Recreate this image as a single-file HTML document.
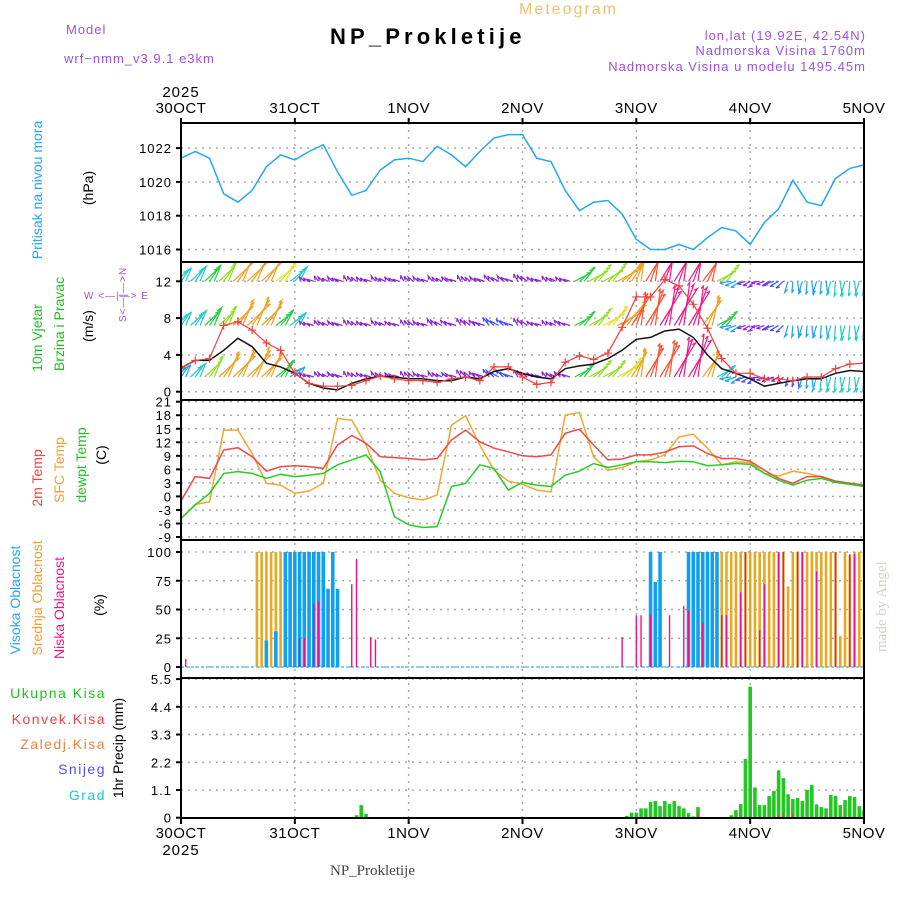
<!DOCTYPE html>
<html><head><meta charset="utf-8"><style>
body{margin:0;background:#fff}
svg{display:block;font-family:"Liberation Sans",sans-serif}
.t{font-size:13px;letter-spacing:1px}
</style></head><body>
<svg id="c" width="900" height="900" viewBox="0 0 900 900" xmlns="http://www.w3.org/2000/svg">
<rect width="900" height="900" fill="#fff"/>
<text x="66" y="34" fill="#a050e0" class="t" font-size="14" letter-spacing="2">Model</text>
<text x="64" y="63" fill="#a050e0" class="t" font-size="15" letter-spacing="2">wrf−nmm_v3.9.1 e3km</text>
<text x="330" y="44" font-family="Liberation Sans,sans-serif" font-weight="bold" font-size="22" letter-spacing="1.5" textLength="193">NP_Prokletije</text>
<text x="519" y="14" fill="#f0c070" font-size="16" letter-spacing="2">Meteogram</text>
<text x="866" y="40" fill="#a050e0" class="t" text-anchor="end">lon,lat (19.92E, 42.54N)</text>
<text x="866" y="55" fill="#a050e0" class="t" text-anchor="end">Nadmorska Visina 1760m</text>
<text x="866" y="71" fill="#a050e0" class="t" text-anchor="end">Nadmorska Visina u modelu 1495.45m</text>
<text x="330" y="875" fill="#444" font-family="Liberation Serif,serif" font-size="15">NP_Prokletije</text>
<text transform="translate(886,652) rotate(-90)" fill="#c8d8c8" font-family="Liberation Serif,serif" font-size="15">made by Angel</text>
<g id="labels" font-size="14">
<text transform="translate(42,190) rotate(-90)" text-anchor="middle" fill="#20a8f0">Pritisak na nivou mora</text>
<text transform="translate(93,188) rotate(-90)" text-anchor="middle">(hPa)</text>
<text transform="translate(42,338) rotate(-90)" text-anchor="middle" fill="#20c020">10m Vjetar</text>
<text transform="translate(64,324) rotate(-90)" text-anchor="middle" fill="#20c020">Brzina i Pravac</text>
<text transform="translate(93,326) rotate(-90)" text-anchor="middle">(m/s)</text>
<text x="84" y="299" fill="#a050e0" font-size="10" letter-spacing="1">W &lt;—|—&gt; E</text>
<text transform="translate(126,322) rotate(-90)" fill="#a050e0" font-size="10" letter-spacing="1">S&lt;—|—&gt;N</text>
<text transform="translate(42,478) rotate(-90)" text-anchor="middle" fill="#f04040">2m Temp</text>
<text transform="translate(64,470) rotate(-90)" text-anchor="middle" fill="#f0a030">SFC Temp</text>
<text transform="translate(86,465) rotate(-90)" text-anchor="middle" fill="#20c020">dewpt Temp</text>
<text transform="translate(106,455) rotate(-90)" text-anchor="middle">(C)</text>
<text transform="translate(20,600) rotate(-90)" text-anchor="middle" fill="#20a8f0">Visoka Oblacnost</text>
<text transform="translate(42,598) rotate(-90)" text-anchor="middle" fill="#f0a030">Srednja Oblacnost</text>
<text transform="translate(64,608) rotate(-90)" text-anchor="middle" fill="#f0108a">Niska Oblacnost</text>
<text transform="translate(104,605) rotate(-90)" text-anchor="middle">(%)</text>
<text x="106" y="698" text-anchor="end" fill="#20c020" letter-spacing="1.5">Ukupna Kisa</text>
<text x="106" y="724" text-anchor="end" fill="#f04040" letter-spacing="1.5">Konvek.Kisa</text>
<text x="106" y="749" text-anchor="end" fill="#f08040" letter-spacing="1.5">Zaledj.Kisa</text>
<text x="106" y="774" text-anchor="end" fill="#5050f0" letter-spacing="1.5">Snijeg</text>
<text x="106" y="800" text-anchor="end" fill="#20c8c8" letter-spacing="1.5">Grad</text>
<text transform="translate(123,748) rotate(-90)" text-anchor="middle">1hr Precip (mm)</text>
</g>
</svg>
<script>
const NS='http://www.w3.org/2000/svg';
const svg=document.getElementById('c');
// ---- data (3-hourly, hour 0..144) ----
const dayLabels=['30OCT','31OCT','1NOV','2NOV','3NOV','4NOV','5NOV'];
const pressure=[1021.4,1021.8,1021.4,1019.3,1018.8,1019.5,1020.9,1021.6,1021.3,1021.8,1022.2,1020.6,1019.2,1019.5,1020.7,1021.3,1021.4,1021.2,1022.1,1021.6,1020.9,1021.8,1022.6,1022.8,1022.8,1021.4,1021.2,1019.5,1018.3,1018.8,1018.9,1018.1,1016.6,1016.0,1016.0,1016.3,1016.0,1016.7,1017.3,1017.1,1016.3,1017.6,1018.4,1020.1,1018.8,1018.6,1020.2,1020.8,1021.0];
const windSpeed=[2.6,3.4,3.4,4.5,5.8,4.9,3.1,2.7,2.0,0.9,0.4,0.2,0.9,1.4,1.7,1.6,1.4,1.4,1.2,1.2,1.6,1.4,2.2,2.5,2.0,1.6,1.4,2.5,2.8,3.0,3.6,4.5,5.7,5.9,6.6,6.8,5.9,4.0,2.5,2.0,1.4,0.6,0.9,1.2,1.4,1.4,2.0,2.3,2.2];
const windGust=[2.6,3.4,3.6,7.2,7.6,6.7,5.3,4.5,2.0,0.9,0.6,0.6,0.7,1.2,1.7,1.4,1.2,1.2,1.0,1.4,1.6,1.2,2.7,2.7,1.6,0.8,1.0,3.2,3.9,3.5,4.2,7.0,10.3,10.3,12.2,11.5,9.5,6.9,3.6,2.0,2.0,1.4,1.4,1.2,1.6,1.6,2.5,3.0,3.1];
const barbTop=[4,4.5,5,6,8,9,9,7,4.5,1.5,1.5,1.5,1.5,1.5,1.5,1.5,1.5,1.5,1.5,1.5,1.5,1.5,2,2,2,1.5,1.5,1.5,5,6,6.5,8,9,11,13,13,12,10,6,3,2,2,2.5,3,3.5,3.5,4,4,4];
const barbMid=[4,4.5,5.5,6,8,9,8,5,4,1.5,1.5,1.5,1.5,1.5,1.5,1.5,1.5,1.5,2,2,2,2,2.5,2.5,2,1.5,1.5,2,5,6,7,9,10,11,12,13,12,9,5,3,2,2,2.5,3,3,3.5,4,4,4];
const barbLow=[3.5,4,6.5,8,9,9.5,8,5.5,3,1.5,1.5,1.5,1.5,1.5,1.5,1.5,1.5,1.5,1.5,1.5,2,2,2.5,2.5,2,1.5,1.5,2,5,6,6,7,8.5,10,11,12,13,8,4,3,2.5,2,2,2.5,3,4,4,4,4];
const barbDir=[55,55,55,55,55,55,55,50,50,150,140,150,130,150,140,150,130,150,140,150,130,150,140,150,130,150,140,150,40,40,40,40,70,70,70,70,70,65,40,200,210,200,210,265,265,265,265,265,265];
const temp2m=[-1,4.4,4.0,10.3,10.8,8.8,5.6,6.6,6.8,6.6,6.2,11.4,13.5,11.8,8.8,8.6,8.4,8.1,8.4,12.5,14.7,12.1,10.7,9.9,9.0,8.8,9.2,14.0,14.9,11.4,8.1,8.3,9.2,9.2,9.8,11.0,11.2,9.5,8.4,8.4,7.8,5.8,4.0,2.9,4.4,4.4,3.4,2.9,2.5];
const tempSfc=[-4.9,-1.8,-1.2,14.7,14.7,9.5,2.9,2.5,0.7,1.2,2.9,17.3,16.9,11.4,3.6,0.7,-0.3,-0.8,0.3,15.8,17.9,11.4,5.8,3.4,2.7,1.4,1.0,18.0,18.6,8.8,5.8,6.4,7.7,8.1,9.2,13.2,13.8,10.7,7.0,7.7,7.5,5.1,4.5,5.6,5.1,4.4,3.4,2.9,2.4];
const dewpt=[-4.9,-1.9,0.7,5.1,5.5,5.1,4.0,4.9,4.4,4.7,5.1,7.0,8.1,9.2,5.5,-4.5,-6.3,-6.9,-6.7,2.2,2.9,7.0,6.2,1.4,3.1,2.5,2.2,4.7,5.6,7.3,6.4,7.0,7.7,7.7,7.5,7.8,7.7,6.8,7.0,7.3,7.1,5.1,3.6,2.5,3.6,4.0,3.1,2.7,2.2];
// clouds (hourly): hours + values
const highHours=[18,20,22,23,24,25,26,27,28,29,30,31,32,33,99,100,101,107,108,109,110,111,112,113];
const highVals=[23,31,100,100,100,100,100,100,100,100,100,68,100,68,100,74,100,100,100,100,100,100,100,100];
const midHours=[16,17,18,19,20,21,22,23,24,25,26,27,28,29,30,31,108,110,111,112,113,114,115,116,117,118,119,120,121,122,123,124,125,126,127,128,129,130,131,132,133,134,135,136,137,138,139,140,141,142,143,144];
const midVals=[100,100,100,100,100,100,100,100,100,38,100,78,100,100,78,20,44,100,100,100,100,100,100,100,100,100,100,100,100,100,100,100,100,100,100,70,100,100,100,100,100,100,100,100,100,100,27,100,97,100,100,100];
const lowHours=[1,25,26,28,29,36,37,40,41,93,96,97,99,103,106,107,110,114,115,118,119,122,123,126,127,130,131,134,138,141,142];
const lowVals=[7,25,25,55,57,72,94,26,24,26,45,45,45,45,53,49,38,45,45,65,100,32,72,100,100,100,100,83,100,98,98];
// precipitation (hourly)
const rainHours=[37,38,39,94,95,96,97,98,99,100,101,102,103,104,105,106,107,108,109,116,117,118,119,120,121,122,123,124,125,126,127,128,129,130,131,132,133,134,135,136,137,138,139,140,141,142,143,144];
const rainVals=[0.1,0.5,0.15,0.07,0.2,0.2,0.37,0.37,0.62,0.66,0.46,0.66,0.54,0.66,0.46,0.37,0.18,0.05,0.42,0.1,0.3,0.54,2.33,5.2,1.2,0.5,0.5,0.86,1.06,1.88,1.57,0.93,0.74,0.78,0.66,1.1,1.3,0.53,0.42,0.37,0.9,0.86,0.5,0.7,0.86,0.82,0.46,0.3];
const convHours=[109,120,125,126,127,129];
const convVals=[0.2,0.05,0.05,0.1,0.2,0.15];
const presTicks=[1016,1018,1020,1022];
const windTicks=[0,4,8,12];
const tempTicks=[21,18,15,12,9,6,3,0,-3,-6,-9];
const cloudTicks=[0,25,50,75,100];
const precipTicks=['0','1.1','2.2','3.3','4.4','5.5'];

// ---- axes ----
const X0=181,X1=864;
const X=h=>X0+h*(X1-X0)/144;
const Yp=v=>249.5-(v-1016)*16.9;
const Yw=v=>391.7-v*9.2;
const Yt=v=>401.7+(21-v)*4.51;
const Yc=v=>667-v*1.15;
const Yr=v=>817.7-v*25.2;
const panels=[[123,262],[262,400],[400,540],[540,678],[678,818]];
function el(tag,attrs,parent){const e=document.createElementNS(NS,tag);for(const k in attrs)e.setAttribute(k,attrs[k]);(parent||svg).appendChild(e);return e;}
const defs=el('defs',{});
panels.forEach((p,i)=>{const cp=el('clipPath',{id:'cp'+i},defs);el('rect',{x:X0,y:p[0],width:X1-X0,height:p[1]-p[0]},cp);});
const grid=el('g',{stroke:'#aaa','stroke-width':1.5,'stroke-dasharray':'2,5'});


for(let d=1;d<6;d++){const l=el('line',{x1:X(d*24),x2:X(d*24),y1:123,y2:818},grid);}
function yTicks(ticks,Y,labels){ticks.forEach((t,i)=>{const y=Y(+t);
 el('line',{x1:X0,x2:X1,y1:y,y2:y},grid);
 const tx=el('text',{x:172,y:y+5,'text-anchor':'end','font-size':13,'letter-spacing':1});
 
 
 tx.textContent=labels?labels[i]:t;
 el('line',{x1:X0-5,x2:X0,y1:y,y2:y,stroke:'#000','stroke-width':2});});}
yTicks(presTicks,Yp);yTicks(windTicks,Yw);yTicks(tempTicks,Yt);yTicks(cloudTicks,Yc);yTicks(precipTicks,Yr,precipTicks);
function line(vals,Y,color,name,clip,w){const pts=vals.map((v,i)=>X(i*3).toFixed(1)+','+Y(v).toFixed(1)).join(' ');
 const p=el('polyline',{points:pts,fill:'none',stroke:color,'stroke-width':w||1.5,'clip-path':'url(#cp'+clip+')'});
 
 return p;}
line(pressure,Yp,'#20a8f0','pressure-line',0);
// wind barbs
function wcol(s){if(s<2.2)return '#8a20e0';if(s<3)return '#4050ff';if(s<4)return '#20a0f0';if(s<5)return '#20c8d0';if(s<6)return '#20d040';if(s<7)return '#90e020';if(s<8)return '#e0e020';if(s<10)return '#f0a020';if(s<12)return '#ff5030';return '#f01888';}
const bg=el('g',{'clip-path':'url(#cp1)','stroke-width':1.2,fill:'none'});


[[barbTop,12],[barbMid,7.2],[barbLow,1.6]].forEach(([arr,lev])=>{
 arr.forEach((s,i)=>{for(let k=-1;k<=1;k++){const x=X(i*3+k),y=Yw(lev);const a=(barbDir[i]+k*12)*Math.PI/180,L=2+s*3.2;
  const x2=x+L*Math.cos(a),y2=y-L*Math.sin(a);const c=wcol(s);
  const hx=x2-4*Math.cos(a-0.5),hy=y2+4*Math.sin(a-0.5);
  const b=el('path',{d:`M${x.toFixed(1)},${y.toFixed(1)}L${x2.toFixed(1)},${y2.toFixed(1)}L${hx.toFixed(1)},${hy.toFixed(1)}`,stroke:c},bg);}});});
line(windSpeed,Yw,'#111','wind-speed-line',1);
line(windGust,Yw,'#f04040','wind-gust-line',1,1.2);
windGust.forEach((v,i)=>{const x=X(i*3),y=Yw(v);const m=el('path',{d:`M${x-4},${y}h8M${x},${y-4}v8`,stroke:'#f04040','stroke-width':1.2,'clip-path':'url(#cp1)'});
 
 });
line(tempSfc,Yt,'#f0a830','sfc-temp-line',2);
line(temp2m,Yt,'#f04848','temp-2m-line',2);
line(dewpt,Yt,'#20d020','dewpoint-line',2);
// clouds
function bars(hours,vals,Y,color,w,name,clip){hours.forEach((h,i)=>{const y=Y(vals[i]);const r=el('rect',{x:X(h)-w/2,y:y,width:w,height:Y(0)-y,fill:color,'clip-path':'url(#cp'+clip+')'});
 
 });}
el('line',{x1:X0,x2:X1,y1:Yc(0),y2:Yc(0),stroke:'#60c0f0','stroke-width':1.5,'stroke-dasharray':'3,2'});
bars(midHours,midVals,Yc,'#e8a820',2.6,'mid-cloud-bar',3);
bars(highHours,highVals,Yc,'#10a0f0',3.6,'high-cloud-bar',3);
bars(lowHours,lowVals,Yc,'#f0108a',1.4,'low-cloud-bar',3);
bars(rainHours,rainVals,Yr,'#20c820',3.6,'precip-bar',4);
bars(convHours,convVals,Yr,'#f04040',1.6,'convective-bar',4);
// frames
panels.forEach((p,i)=>{const r=el('rect',{x:X0,y:p[0],width:X1-X0,height:p[1]-p[0],fill:'none',stroke:'#000','stroke-width':2});
 
 });
dayLabels.forEach((d,i)=>{const x=X(i*24);
 el('line',{x1:x,x2:x,y1:118,y2:123,stroke:'#000','stroke-width':2});
 el('line',{x1:x,x2:x,y1:818,y2:824,stroke:'#000','stroke-width':2});
 const t=el('text',{x:x,y:113,'text-anchor':'middle','font-size':15,'letter-spacing':0.5});
 
 
 t.textContent=d;
 const b=el('text',{x:x,y:838,'text-anchor':'middle','font-size':15,'letter-spacing':0.5});
 
 
 b.textContent=d;});
[[97,'top-year'],[855,'bottom-year']].forEach(([y,n])=>{const t=el('text',{x:181,y:y,'text-anchor':'middle','font-size':15,'letter-spacing':1});
 
 
 t.textContent='2025';});
</script>
</body></html>
